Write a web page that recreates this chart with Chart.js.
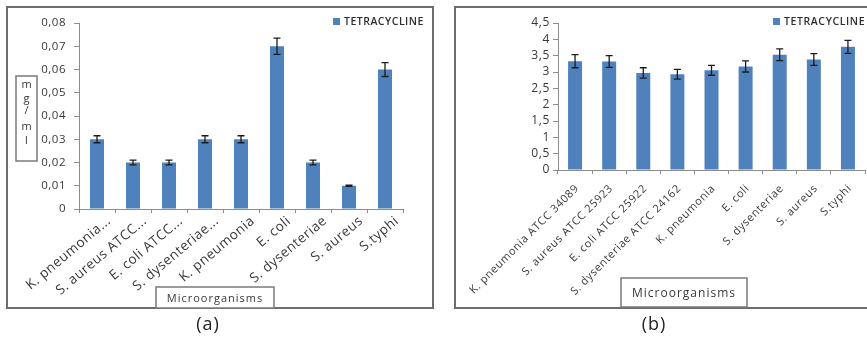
<!DOCTYPE html>
<html>
<head>
<meta charset="utf-8">
<script src="https://cdn.jsdelivr.net/npm/chart.js@4.4.1/dist/chart.umd.min.js"></script>
<style>
  html, body { margin: 0; padding: 0; background: #fff; width: 867px; height: 337px; overflow: hidden; position: relative; }
  .frame { position: absolute; box-sizing: border-box; border: 2px solid #6e6e6e; }
  canvas { position: absolute; top: 0; }
</style>
</head>
<body>
<div class="frame" style="left:6px;top:6px;width:428px;height:303px"></div>
<div class="frame" style="left:454px;top:6px;width:480px;height:303px"></div>
<canvas id="chartA" width="440" height="337" style="left:0"></canvas>
<canvas id="chartB" width="427" height="337" style="left:440px"></canvas>
<script>
// Panel (a): MIC in mg/ml
const catsA = ['K. pneumonia...', 'S. aureus ATCC...', 'E. coli ATCC...', 'S. dysenteriae...',
               'K. pneumonia', 'E. coli', 'S. dysenteriae', 'S. aureus', 'S.typhi'];
const valuesA = [0.03, 0.02, 0.02, 0.03, 0.03, 0.07, 0.02, 0.01, 0.06];
const errorsA = [0.0015, 0.001, 0.001, 0.0015, 0.0015, 0.0035, 0.001, 0.0003, 0.003];
const yTickValsA = [0, 0.01, 0.02, 0.03, 0.04, 0.05, 0.06, 0.07, 0.08];
const yTickLabelsA = ['0', '0,01', '0,02', '0,03', '0,04', '0,05', '0,06', '0,07', '0,08'];

// Panel (b)
const catsB = ['K. pneumonia ATCC 34089', 'S. aureus ATCC 25923', 'E. coli ATCC 25922',
               'S. dysenteriae ATCC 24162', 'K. pneumonia', 'E. coli', 'S. dysenteriae',
               'S. aureus', 'S.typhi'];
const valuesB = [3.33, 3.32, 2.97, 2.93, 3.05, 3.17, 3.53, 3.38, 3.77];
const errorsB = [0.20, 0.18, 0.16, 0.15, 0.15, 0.17, 0.18, 0.18, 0.20];
const yTickValsB = [0, 0.5, 1, 1.5, 2, 2.5, 3, 3.5, 4, 4.5];
const yTickLabelsB = ['0', '0,5', '1', '1,5', '2', '2,5', '3', '3,5', '4', '4,5'];

const seriesName = 'TETRACYCLINE';
const xTitle = 'Microorganisms';
const yTitleA = 'mg/ml';

const BLUE = '#4F81BD';
const AXIS = '#8c8c8c';
const TEXT = '#383838';
const FONT = "'Open Sans', sans-serif";

// Error bars, legend, boxed axis titles and panel letter
const panelDecor = {
  id: 'panelDecor',
  beforeUpdate(chart, args, o) { chart.ctx.letterSpacing = o.spacing + 'px'; },
  beforeDraw(chart, args, o) { chart.ctx.letterSpacing = o.spacing + 'px'; },
  afterDatasetsDraw(chart, args, o) {
    const ctx = chart.ctx;
    const y = chart.scales.y;
    const ds = chart.data.datasets[0];
    const meta = chart.getDatasetMeta(0);
    ctx.save();
    ctx.strokeStyle = '#1c1c1c';
    ctx.lineWidth = 1.3;
    meta.data.forEach((bar, i) => {
      const v = ds.data[i], e = o.errors[i];
      const top = y.getPixelForValue(v + e);
      const bot = y.getPixelForValue(v - e);
      const x = bar.x;
      ctx.beginPath();
      ctx.moveTo(x, top); ctx.lineTo(x, bot);
      ctx.moveTo(x - 3.5, top); ctx.lineTo(x + 3.5, top);
      ctx.moveTo(x - 3.5, bot); ctx.lineTo(x + 3.5, bot);
      ctx.stroke();
    });
    ctx.restore();
  },
  afterDraw(chart, args, o) {
    const ctx = chart.ctx;
    const ds = chart.data.datasets[0];
    ctx.save();
    ctx.letterSpacing = o.spacing + 'px';
    ctx.textBaseline = 'middle';

    // legend
    ctx.fillStyle = ds.backgroundColor;
    ctx.fillRect(o.legend.x, o.legend.y, 7, 7);
    ctx.fillStyle = '#2e2e2e';
    ctx.textAlign = 'left';
    ctx.font = `600 10.5px ${FONT}`;
    ctx.fillText(ds.label, o.legend.x + 11, o.legend.y + 4);

    ctx.strokeStyle = '#7a7a7a';
    ctx.lineWidth = 1.5;

    // x axis title in a box
    const xb = o.xTitle;
    ctx.fillStyle = '#fff';
    ctx.fillRect(xb.x, xb.y, xb.w, xb.h);
    ctx.strokeRect(xb.x, xb.y, xb.w, xb.h);
    ctx.fillStyle = TEXT;
    ctx.textAlign = 'center';
    ctx.letterSpacing = '1px';
    ctx.font = `${xb.size}px ${FONT}`;
    ctx.fillText(xTitle, xb.x + xb.w / 2, xb.y + xb.h / 2 + 1);

    // y axis title, letters stacked vertically in a box
    if (o.yTitle) {
      const yb = o.yTitle;
      ctx.letterSpacing = '0px';
      ctx.strokeRect(yb.x, yb.y, yb.w, yb.h);
      ctx.font = `11px ${FONT}`;
      yTitleA.split('').forEach((ch, i) => {
        ctx.fillText(ch, yb.x + yb.w / 2, yb.lines[i]);
      });
    }

    // panel letter
    ctx.letterSpacing = '1px';
    ctx.fillStyle = '#222';
    ctx.font = `18px ${FONT}`;
    ctx.fillText(o.tag.text, o.tag.x, o.tag.y);
    ctx.restore();
  }
};

function makeChart(id, cats, values, errors, tickVals, tickLabels, cfg) {
  return new Chart(document.getElementById(id), {
    type: 'bar',
    data: {
      labels: cats,
      datasets: [{
        label: seriesName,
        data: values,
        backgroundColor: BLUE,
        barPercentage: 1,
        categoryPercentage: cfg.barFrac
      }]
    },
    options: {
      responsive: false,
      animation: false,
      devicePixelRatio: 1,
      layout: { padding: cfg.padding },
      plugins: {
        legend: { display: false },
        tooltip: { enabled: false },
        panelDecor: Object.assign({ errors: errors }, cfg.decor)
      },
      scales: {
        x: {
          grid: { offset: true, drawOnChartArea: false, tickLength: 4, color: AXIS },
          border: { color: AXIS },
          ticks: {
            autoSkip: false, minRotation: cfg.xRot, maxRotation: cfg.xRot,
            color: TEXT, padding: cfg.xPad, labelOffset: cfg.xShift,
            font: { family: FONT, size: cfg.xFont }
          },
          afterFit(s) { s.height = cfg.xHeight; }
        },
        y: {
          min: tickVals[0],
          max: tickVals[tickVals.length - 1],
          grid: { drawOnChartArea: false, tickLength: 5, color: AXIS },
          border: { color: AXIS },
          afterBuildTicks(s) { s.ticks = tickVals.map(v => ({ value: v })); },
          ticks: {
            autoSkip: false,
            color: TEXT, padding: cfg.yPad,
            font: { family: FONT, size: cfg.yFont },
            callback: (v, i) => tickLabels[i]
          },
          afterFit(s) { s.width = cfg.yWidth; }
        }
      }
    },
    plugins: [panelDecor]
  });
}

makeChart('chartA', catsA, valuesA, errorsA, yTickValsA, yTickLabelsA, {
  barFrac: 0.39,
  padding: { left: 0, top: 23, right: 37, bottom: 28 },
  yWidth: 79, xHeight: 100,
  xFont: 13.5, xRot: 40, yFont: 11.5, xPad: 0, xShift: 12, yPad: 8,
  decor: {
    spacing: 0.5,
    legend: { x: 333, y: 18 },
    xTitle: { x: 156, y: 287, w: 118, h: 21, size: 11 },
    yTitle: { x: 16, y: 76, w: 21, h: 85, lines: [85, 99, 111, 127, 141] },
    tag: { text: '(a)', x: 208, y: 325 }
  }
});

makeChart('chartB', catsB, valuesB, errorsB, yTickValsB, yTickLabelsB, {
  barFrac: 0.41,
  padding: { left: 0, top: 23, right: 2, bottom: 28 },
  yWidth: 118, xHeight: 139,
  xFont: 11, xRot: 45, yFont: 12, xPad: 8, xShift: 2, yPad: 3,
  decor: {
    spacing: 0.6,
    legend: { x: 333, y: 18 },
    xTitle: { x: 181, y: 278, w: 126, h: 29, size: 12 },
    yTitle: null,
    tag: { text: '(b)', x: 214, y: 325 }
  }
});
</script>
</body>
</html>
